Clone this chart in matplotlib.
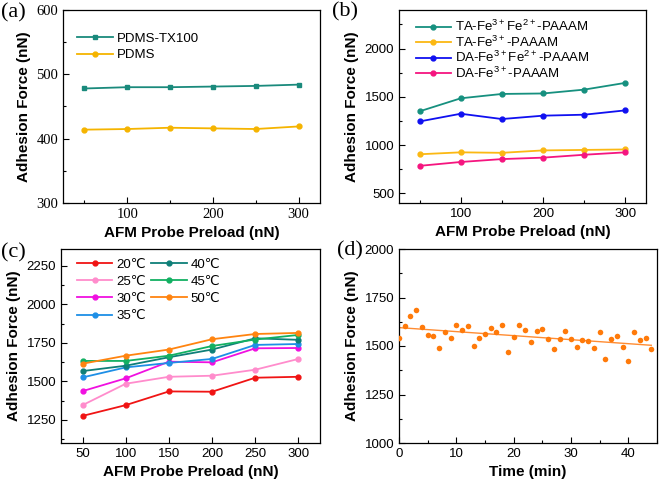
import numpy as np
import matplotlib
matplotlib.use('Agg')
import matplotlib.pyplot as plt
from matplotlib.ticker import MultipleLocator

plt.rcParams['font.family'] = ['Liberation Sans', 'DejaVu Sans']
plt.rcParams['mathtext.default'] = 'regular'

# panel (a)
preload = [50, 100, 150, 200, 250, 300]
pdms_tx100 = [478, 480, 480, 481, 482, 484]
pdms = [414, 415, 417, 416, 415, 419]

# panel (b)
ta_fe32 = [1350, 1485, 1530, 1535, 1575, 1645]
ta_fe3 = [905, 925, 920, 945, 950, 955]
da_fe32 = [1245, 1325, 1270, 1305, 1315, 1360]
da_fe3 = [785, 825, 855, 870, 900, 925]

# panel (c)
temp_labels = ['20℃', '25℃', '30℃', '35℃', '40℃', '45℃', '50℃']
t20 = [1276, 1346, 1435, 1433, 1524, 1530]
t25 = [1346, 1485, 1530, 1537, 1576, 1646]
t30 = [1437, 1520, 1628, 1624, 1715, 1717]
t35 = [1526, 1591, 1620, 1646, 1737, 1743]
t40 = [1567, 1602, 1657, 1707, 1780, 1770]
t45 = [1633, 1633, 1667, 1730, 1772, 1802]
t50 = [1615, 1667, 1707, 1774, 1808, 1815]

# panel (d)
time_min = list(range(45))
force_t = [1541, 1603, 1654, 1687, 1600, 1558, 1553, 1490, 1574, 1539,
           1607, 1583, 1603, 1499, 1543, 1562, 1593, 1570, 1607, 1470,
           1544, 1609, 1584, 1523, 1579, 1590, 1537, 1483, 1537, 1577,
           1534, 1497, 1530, 1527, 1489, 1572, 1435, 1536, 1551, 1497,
           1424, 1572, 1529, 1541, 1485]

W, H = 661, 484
fig = plt.figure(figsize=(W / 100, H / 100), dpi=100)


def add_ax(left, right, top, bottom):
    return fig.add_axes([left / W, 1 - bottom / H, (right - left) / W, (bottom - top) / H])


def style(ax, xlabel, tickfont='Liberation Sans'):
    ax.tick_params(which='both', direction='in', labelsize=9.5, width=0.8,
                   labelfontfamily=tickfont)
    ax.tick_params(which='major', length=4)
    ax.tick_params(which='minor', length=2)
    ax.set_xlabel(xlabel, fontsize=11, fontweight='bold', labelpad=4)
    ax.set_ylabel('Adhesion Force (nN)', fontsize=11, fontweight='bold', labelpad=4)
    for s in ax.spines.values():
        s.set_linewidth(0.9)


def panel_label(x, y, s):
    fig.text(x / W, 1 - y / H, s, family='Liberation Serif', fontsize=16, va='center')


leg_kw = dict(frameon=False, fontsize=9.5, handlelength=2.7, handletextpad=0.3,
              borderaxespad=0.3)

# (a)
ax = add_ax(63, 320, 10, 203)
ax.plot(preload, pdms_tx100, '-s', color='#1a8a7c', ms=3.5, lw=1.3, label='PDMS-TX100')
ax.plot(preload, pdms, '-o', color='#f5b400', ms=3.5, lw=1.3, label='PDMS')
ax.set_xlim(25, 325)
ax.set_ylim(300, 600)
ax.xaxis.set_major_locator(MultipleLocator(100))
ax.xaxis.set_minor_locator(MultipleLocator(50))
ax.yaxis.set_major_locator(MultipleLocator(100))
ax.yaxis.set_minor_locator(MultipleLocator(50))
style(ax, 'AFM Probe Preload (nN)', tickfont='Liberation Serif')
ax.tick_params(labelsize=10.5)
ax.legend(loc='upper left', bbox_to_anchor=(0.02, 0.93), labelspacing=0.3, **leg_kw)
panel_label(1, 13, '(a)')

# (b)
ax = add_ax(399, 646, 10, 203)
ax.plot(preload, ta_fe32, '-o', color='#16907f', ms=3.5, lw=1.3, label='TA-Fe$^{3+}$Fe$^{2+}$-PAAAM')
ax.plot(preload, ta_fe3, '-o', color='#fbb813', ms=3.5, lw=1.3, label='TA-Fe$^{3+}$-PAAAM')
ax.plot(preload, da_fe32, '-o', color='#1010f0', ms=3.5, lw=1.3, label='DA-Fe$^{3+}$Fe$^{2+}$-PAAAM')
ax.plot(preload, da_fe3, '-o', color='#f5157f', ms=3.5, lw=1.3, label='DA-Fe$^{3+}$-PAAAM')
ax.set_xlim(25, 325)
ax.set_ylim(400, 2400)
ax.xaxis.set_major_locator(MultipleLocator(100))
ax.xaxis.set_minor_locator(MultipleLocator(50))
ax.yaxis.set_major_locator(MultipleLocator(500))
ax.yaxis.set_minor_locator(MultipleLocator(250))
style(ax, 'AFM Probe Preload (nN)')
ax.legend(loc='upper left', bbox_to_anchor=(0.03, 1.0), labelspacing=0.02, **leg_kw)
panel_label(332, 12, '(b)')

# (c)
ax = add_ax(61, 320, 249, 443)
c_colors = ['#f01414', '#ff8ccc', '#f010e0', '#1e8fe6', '#0e7f78', '#12b062', '#ff8410']
for vals, lab, col in zip([t20, t25, t30, t35, t40, t45, t50], temp_labels, c_colors):
    ax.plot(preload, vals, '-o', color=col, ms=3.5, lw=1.3, label=lab)
ax.set_xlim(25, 325)
ax.set_ylim(1100, 2360)
ax.xaxis.set_major_locator(MultipleLocator(50))
ax.yaxis.set_major_locator(MultipleLocator(250))
ax.yaxis.set_minor_locator(MultipleLocator(125))
style(ax, 'AFM Probe Preload (nN)')
ax.legend(loc='upper left', bbox_to_anchor=(0.025, 1.0), ncol=2, columnspacing=0.4,
          prop={'family': ['Liberation Sans', 'DejaVu Sans'], 'size': 9.5},
          frameon=False, handlelength=2.7, handletextpad=0.3, labelspacing=0.38,
          borderaxespad=0.3)
panel_label(1, 253, '(c)')

# (d)
ax = add_ax(399, 657, 249, 443)
ax.scatter(time_min, force_t, s=16, color='#ff7a0a', zorder=3, linewidths=0)
k, b = np.polyfit(time_min, force_t, 1)
xs = np.array([0, 44])
ax.plot(xs, k * xs + b, color='#ff8c32', lw=1.0)
ax.set_xlim(0, 45)
ax.set_ylim(1000, 2000)
ax.xaxis.set_major_locator(MultipleLocator(10))
ax.xaxis.set_minor_locator(MultipleLocator(5))
ax.yaxis.set_major_locator(MultipleLocator(250))
ax.yaxis.set_minor_locator(MultipleLocator(125))
style(ax, 'Time (min)')
panel_label(337, 251, '(d)')

fig.savefig('out.png', dpi=100)
